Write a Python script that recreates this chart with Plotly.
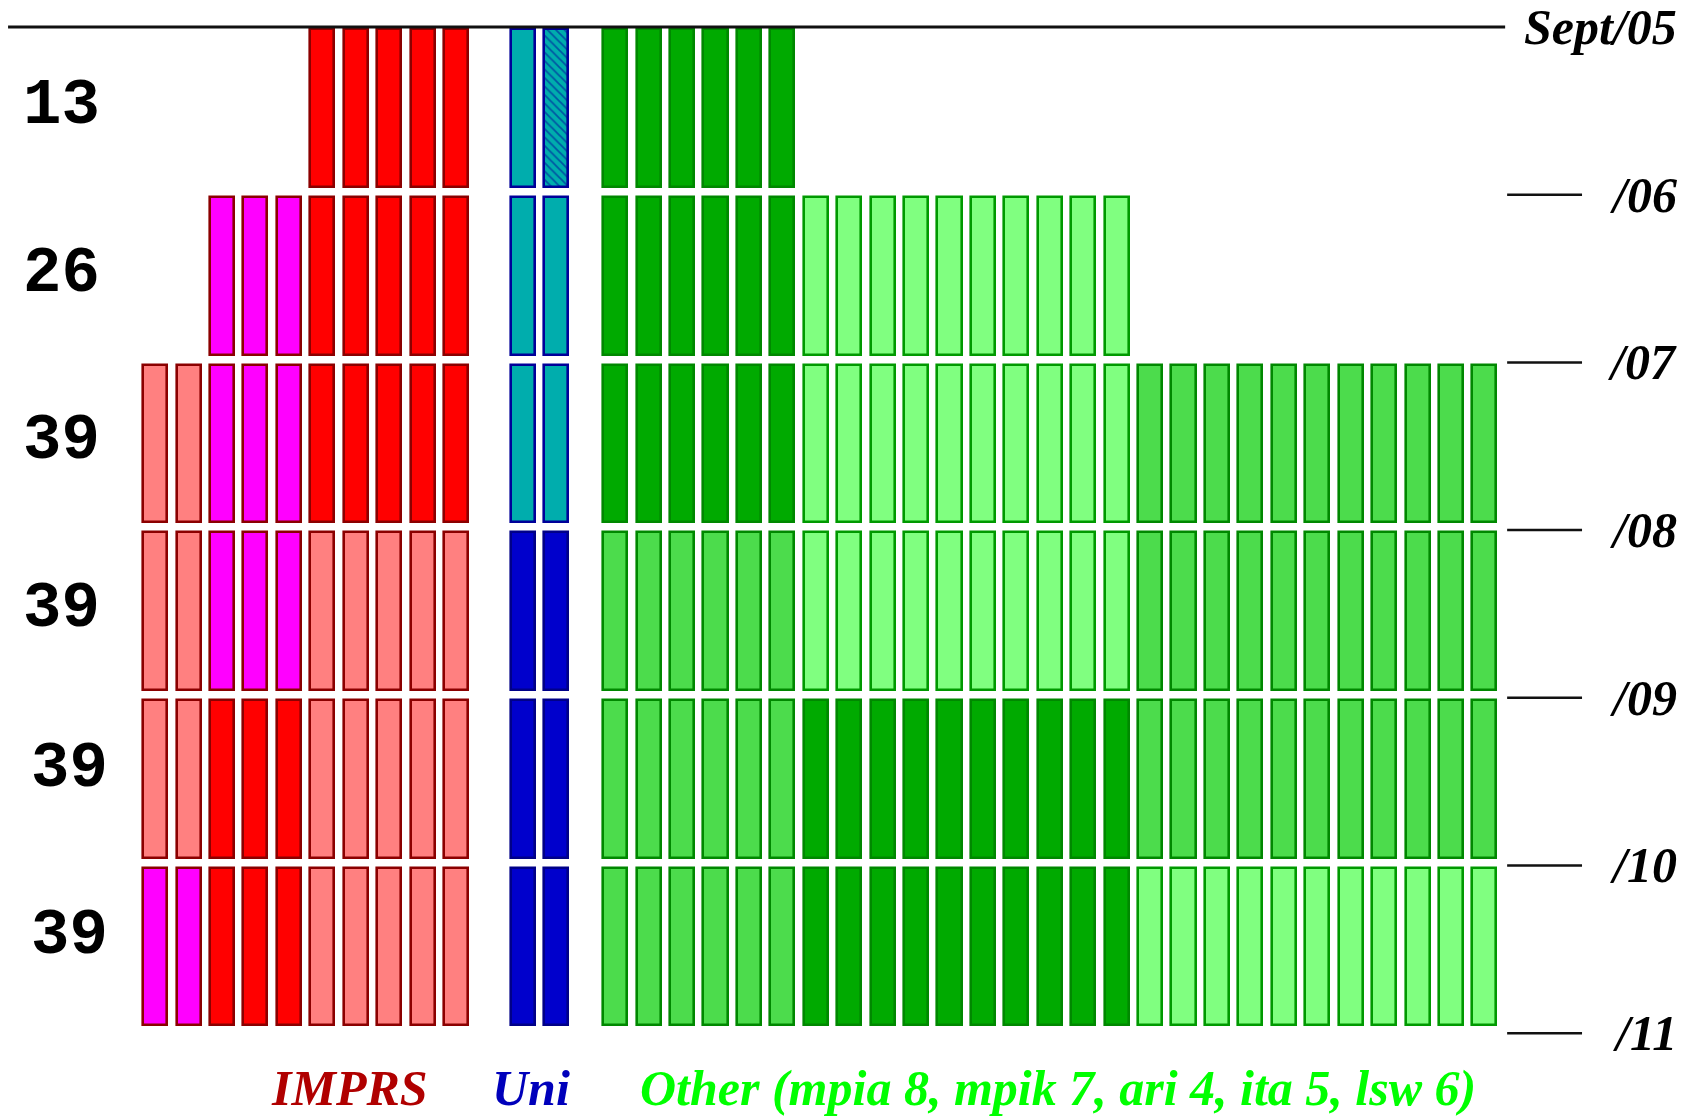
import plotly.graph_objects as go

# ---------------- data ----------------
period_labels = ["Sept/05", "/06", "/07", "/08", "/09", "/10", "/11"]
row_totals = [13, 26, 39, 39, 39, 39]

# one character per student slot; "-" = empty
imprs_rows = [
    "-----RRRRR",
    "--MMMRRRRR",
    "SSMMMRRRRR",
    "SSMMMSSSSS",
    "SSRRRSSSSS",
    "MMRRRSSSSS",
]
uni_rows = ["TH", "TT", "TT", "BB", "BB", "BB"]
other_rows = [
    "GGGGGG---------------------",
    "GGGGGGLLLLLLLLLL-----------",
    "GGGGGGLLLLLLLLLLNNNNNNNNNNN",
    "NNNNNNLLLLLLLLLLNNNNNNNNNNN",
    "NNNNNNGGGGGGGGGGNNNNNNNNNNN",
    "NNNNNNGGGGGGGGGGLLLLLLLLLLL",
]
legend_texts = ["IMPRS", "Uni", "Other (mpia 8, mpik 7, ari 4, ita 5, lsw 6)"]

# ---------------- styles ----------------
styles = {
    "R": dict(fill="#ff0000", line="#8b0000"),
    "M": dict(fill="#ff00ff", line="#8b0000"),
    "S": dict(fill="#ff8080", line="#8b0000"),
    "T": dict(fill="#00adad", line="#000099"),
    "H": dict(fill="#00adad", line="#000099", hatch=True),
    "B": dict(fill="#0000cc", line="#000088"),
    "G": dict(fill="#00aa00", line="#008800"),
    "L": dict(fill="#80ff80", line="#009900"),
    "N": dict(fill="#4cdc4c", line="#008800"),
}
legend_colors = ["#b00000", "#0000bb", "#00ff00"]
legend_x = [5.80, 11.25, 27.0]

imprs_x = list(range(10))
uni_x = [11, 12]
other_x = [13.76 + i for i in range(27)]

bar_width = 0.72
bar_pad_top = 0.014
bar_height = 0.94

# collect bars by style code
groups = {}
for r in range(len(row_totals)):
    for xs, codes in ((imprs_x, imprs_rows[r]), (uni_x, uni_rows[r]), (other_x, other_rows[r])):
        for x, c in zip(xs, codes):
            if c == "-":
                continue
            g = groups.setdefault(c, {"x": [], "base": []})
            g["x"].append(x)
            g["base"].append(r + bar_pad_top)

fig = go.Figure()
for code, g in groups.items():
    st = styles[code]
    marker = dict(color=st["fill"], line=dict(color=st["line"], width=2.6))
    if st.get("hatch"):
        marker["pattern"] = dict(shape="\\", fgcolor="#000099", bgcolor=st["fill"],
                                 size=6, solidity=0.3, fillmode="overlay")
    fig.add_trace(go.Bar(
        x=g["x"], y=[bar_height] * len(g["x"]), base=g["base"],
        width=bar_width, marker=marker, hoverinfo="skip", showlegend=False,
    ))

# top line (Sept/05) and the short period ticks
fig.add_trace(go.Scatter(
    x=[-4.40, 40.38], y=[0, 0], mode="lines",
    line=dict(color="#111111", width=3), hoverinfo="skip", showlegend=False,
))
tick_x, tick_y = [], []
for r in range(1, len(period_labels)):
    tick_x += [40.44, 42.68, None]
    tick_y += [r, r, None]
fig.add_trace(go.Scatter(
    x=tick_x, y=tick_y, mode="lines",
    line=dict(color="#111111", width=2.5), hoverinfo="skip", showlegend=False,
))

serif = dict(family="Liberation Serif", size=50, weight="bold", style="italic")

annotations = []
for r, lab in enumerate(period_labels):
    annotations.append(dict(
        x=1679 / 1685, xref="paper", y=r, yref="y", text=lab, showarrow=False,
        xanchor="right", yanchor="middle", font=dict(serif, color="#000000"),
    ))

label_dx = [-2, -2, -2, -2, 6, 6]
label_dy = [5, 5, 5, 5, 13, 13]
for r, tot in enumerate(row_totals):
    annotations.append(dict(
        x=-2.74, xref="x", y=r + 0.5, yref="y", text=str(tot), showarrow=False,
        xanchor="center", yanchor="middle", xshift=label_dx[r], yshift=label_dy[r],
        font=dict(family="Liberation Mono", size=64, weight="bold", color="#000000"),
    ))

for t, c, x in zip(legend_texts, legend_colors, legend_x):
    annotations.append(dict(
        x=x, xref="x", y=6.33, yref="y", text=t, showarrow=False,
        xanchor="center", yanchor="middle", font=dict(serif, color=c),
    ))

fig.update_layout(
    width=1685, height=1118,
    margin=dict(l=0, r=0, t=0, b=0),
    paper_bgcolor="white", plot_bgcolor="white",
    barmode="overlay", bargap=0,
    xaxis=dict(range=[-4.641, 45.76], visible=False, fixedrange=True),
    yaxis=dict(range=[6.506, -0.161], visible=False, fixedrange=True),
    annotations=annotations,
    showlegend=False,
)

fig.write_html("out.html", config={"displayModeBar": False},
               post_script="document.body.style.margin='0';")
